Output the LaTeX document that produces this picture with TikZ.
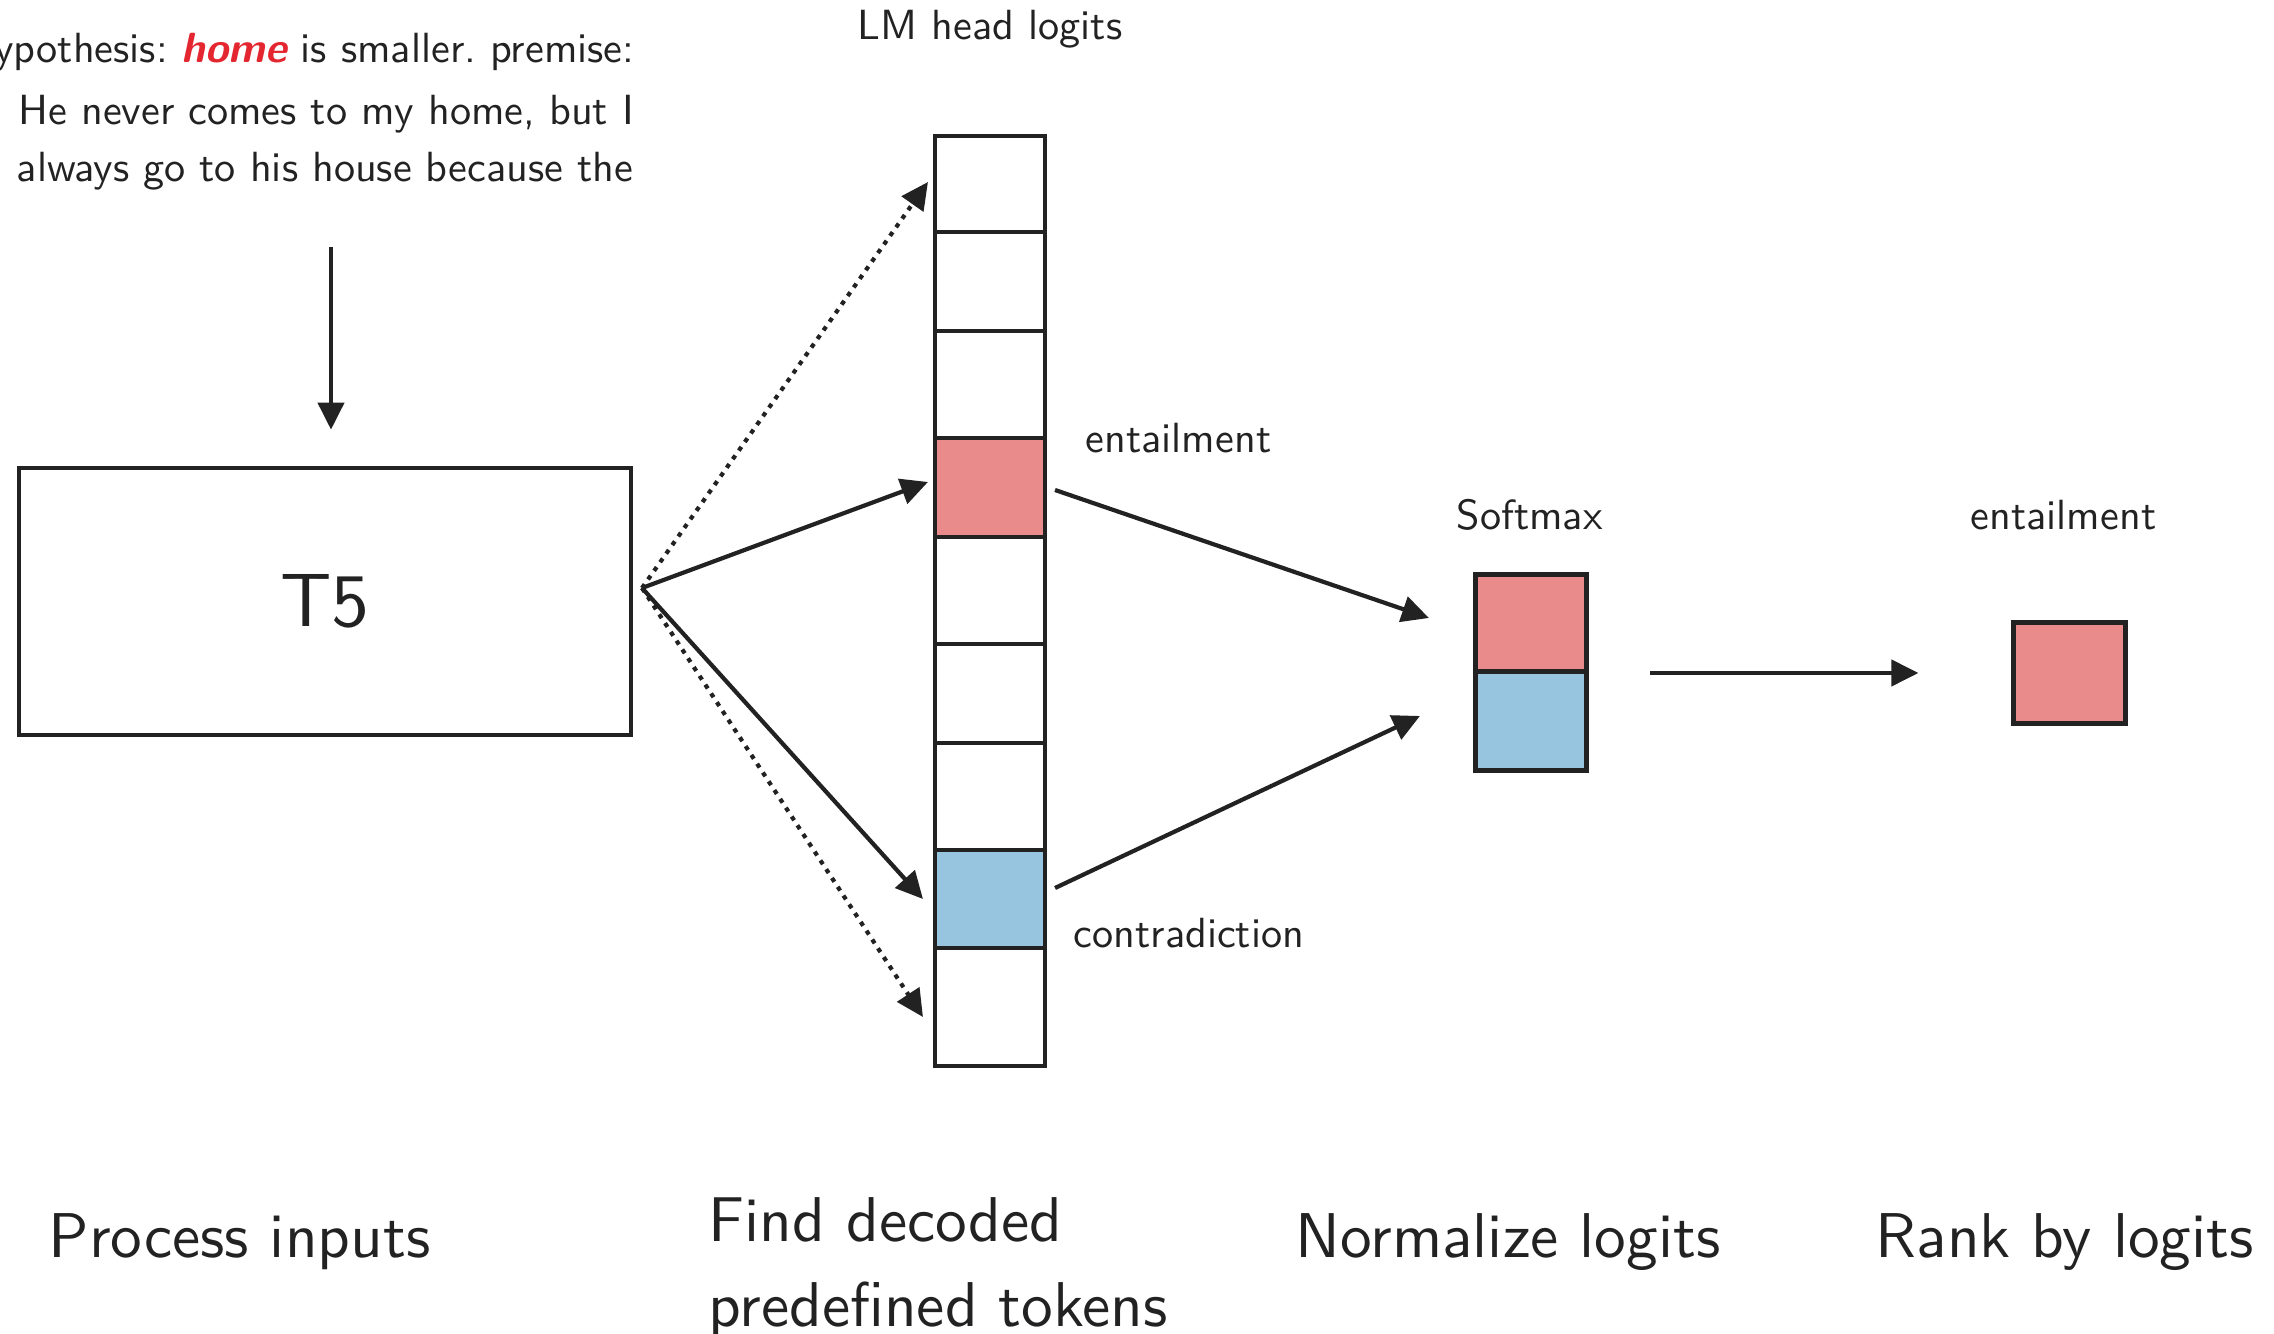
\documentclass[tikz,border=0pt]{standalone}
\usetikzlibrary{arrows.meta,calc}
\definecolor{ink}{HTML}{222222}
\definecolor{tokred}{HTML}{E98B8B}
\definecolor{tokblue}{HTML}{97C4DF}
\definecolor{hilite}{HTML}{E3262F}
% Latin Modern Sans at its 10pt design, scaled up to the wanted size
\newcommand\lmsized[2]{\scalebox{#1}{\fontsize{10}{12.7}\selectfont\frenchspacing #2}}

\begin{document}
\begin{tikzpicture}[x=0.01cm, y=-0.01cm, font=\sffamily, text=ink,
  lbl/.style={inner sep=0pt},
  stage/.style={inner sep=0pt},
  cell/.style={draw=ink, line width=0.038cm, minimum width=1.1cm, inner sep=0pt, outer sep=0pt},
  frame/.style={draw=ink, line width=0.045cm},
  arr/.style={draw=ink, line width=0.042cm, -{Triangle[length=0.27cm,width=0.26cm]}},
  dotarr/.style={arr, dash pattern=on 0.045cm off 0.06cm},
]
\useasboundingbox (0,0) rectangle (2274,1334);

% input text
\begin{scope}
  \clip (0,0) rectangle (2274,1334);
  \node[lbl, anchor=base east] (hyp1) at (635,63)
    {\lmsized{1.2}{hypothesis: \textcolor{hilite}{\bfseries\itshape home} is smaller. premise:}};
  \node[lbl, anchor=base west] (hyp2) at (18,125)
    {\lmsized{1.2}{He never comes to my home, but I}};
  \node[lbl, anchor=base west] (hyp3) at (16,182)
    {\lmsized{1.2}{always go to his house because the}};
\end{scope}

% model
\node[draw=ink, line width=0.045cm, minimum width=6.12cm, minimum height=2.67cm] (t5)
  at (325,601.5) {\lmsized{2.15}{T5}};
\coordinate (hyptail) at (331,247);
\draw[arr, shorten >=0.36cm] (hyptail) -- (hyptail |- t5.north);

% LM head logits column
\foreach \i/\a/\b/\c in {1/136/232/white, 2/232/331/white, 3/331/438/white,
    4/438/537/tokred, 5/537/644/white, 6/644/743/white, 7/743/850/white,
    8/850/948/tokblue, 9/948/1066/white}
  \node[cell, fill=\c, minimum height={(\b-\a)*0.01cm}] (cell\i) at (990,{(\a+\b)/2}) {};
\draw[frame] (cell1.north west) rectangle (cell9.south east);

\node[lbl, anchor=base] (lmhead) at (990,40) {\lmsized{1.2}{LM head logits}};
\node[lbl, anchor=base west] (entlab) at (1085,453) {\lmsized{1.2}{entailment}};
\node[lbl, anchor=base west] (conlab) at (1073,948) {\lmsized{1.2}{contradiction}};

% fan-out from the model
\coordinate (fan) at (642,588);
\draw[dotarr] (fan) -- ([xshift=-0.07cm, yshift=0.02cm]cell1.west);
\draw[arr] (fan) -- ([xshift=-0.07cm, yshift=0.055cm]cell4.west);
\draw[arr] (fan) -- ([xshift=-0.12cm]cell8.west);
\draw[dotarr] (fan) -- ([xshift=-0.12cm, yshift=-0.1cm]cell9.west);

% softmax
\node[cell, fill=tokred, minimum height=0.96cm] (smtop) at (1531,623) {};
\node[cell, fill=tokblue, minimum height=0.99cm] (smbot) at (1531,720.5) {};
\draw[draw=ink, line width=0.05cm] (smtop.north west) rectangle (smbot.south east);
\draw[draw=ink, line width=0.05cm] (smtop.south west) -- (smtop.south east);
\node[lbl, anchor=base west] (smlab) at (1456,530) {\lmsized{1.2}{Softmax}};

\draw[arr] ([xshift=0.1cm, yshift=-0.025cm]cell4.east) -- ([xshift=-0.47cm, yshift=0.05cm]smtop.west);
\draw[arr] ([xshift=0.1cm, yshift=0.11cm]cell8.east) -- ([xshift=-0.56cm, yshift=0.045cm]smbot.west);

% ranked output
\node[draw=ink, line width=0.05cm, fill=tokred, minimum width=1.11cm, minimum height=1.0cm,
      inner sep=0pt] (final) at (2069.5,673) {};
\node[lbl, anchor=base west] (outlab) at (1970,530) {\lmsized{1.2}{entailment}};
\draw[arr] ([xshift=0.64cm]smtop.south east |- final.west) -- ([xshift=-0.93cm]final.west);

% stage captions
\node[stage, anchor=base west] (st1) at (48,1258) {\lmsized{1.8}{Process inputs}};
\node[stage, anchor=base west] (st2) at (708,1327)
  {\lmsized{1.8}{\begin{tabular}[b]{@{}l@{}}Find decoded\\[0.74pt]predefined tokens\end{tabular}}};
\node[stage, anchor=base west] (st3) at (1295,1258) {\lmsized{1.8}{Normalize logits}};
\node[stage, anchor=base west] (st4) at (1875,1258) {\lmsized{1.8}{Rank by logits}};
\end{tikzpicture}
\end{document}
